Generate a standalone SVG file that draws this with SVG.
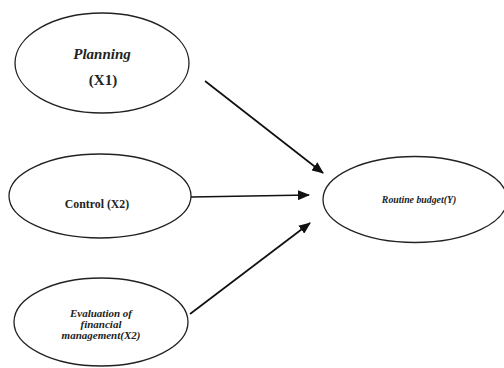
<svg xmlns="http://www.w3.org/2000/svg" width="504" height="368" viewBox="0 0 504 368" font-family="Liberation Serif, DejaVu Serif, serif">
<style>
.node ellipse{fill:#fff;stroke:#222;stroke-width:1.3}
text{font-family:'Liberation Serif','DejaVu Serif',serif;fill:#222;text-anchor:middle}
.bi{font-style:italic;font-weight:bold}
.b{font-weight:bold}
.conn line{stroke:#111;stroke-width:1.7}
</style>
<defs>
<marker id="ah" markerWidth="12" markerHeight="10" refX="11" refY="5" orient="auto" markerUnits="userSpaceOnUse">
<path d="M0,0 L12,5 L0,10 Z" fill="#111"/>
</marker>
</defs>
<rect width="504" height="368" fill="#fff"/>
<g id="planning" class="node">
<ellipse cx="102" cy="63" rx="87" ry="50"/>
<text x="102" y="59" class="bi" font-size="15">Planning</text>
<text x="103" y="85" class="b" font-size="15">(X1)</text>
</g>
<g id="control" class="node">
<ellipse cx="100" cy="196" rx="91" ry="42"/>
<text x="97" y="208" class="b" font-size="11.8">Control (X2)</text>
</g>
<g id="evaluation" class="node">
<ellipse cx="101" cy="322" rx="87" ry="44"/>
<text x="101" y="317" class="bi" font-size="11">Evaluation of</text>
<text x="101" y="328" class="bi" font-size="11">financial</text>
<text x="101" y="339" class="bi" font-size="11">management(X2)</text>
</g>
<g id="routine" class="node">
<ellipse cx="415" cy="199.5" rx="92" ry="43"/>
<text x="419" y="203" class="bi" font-size="9.8">Routine budget(Y)</text>
</g>
<g id="connectors" class="conn">
<line x1="205" y1="81" x2="323" y2="173" marker-end="url(#ah)"/>
<line x1="191" y1="197" x2="309" y2="195" marker-end="url(#ah)"/>
<line x1="190" y1="314" x2="310" y2="223" marker-end="url(#ah)"/>
</g>
</svg>
